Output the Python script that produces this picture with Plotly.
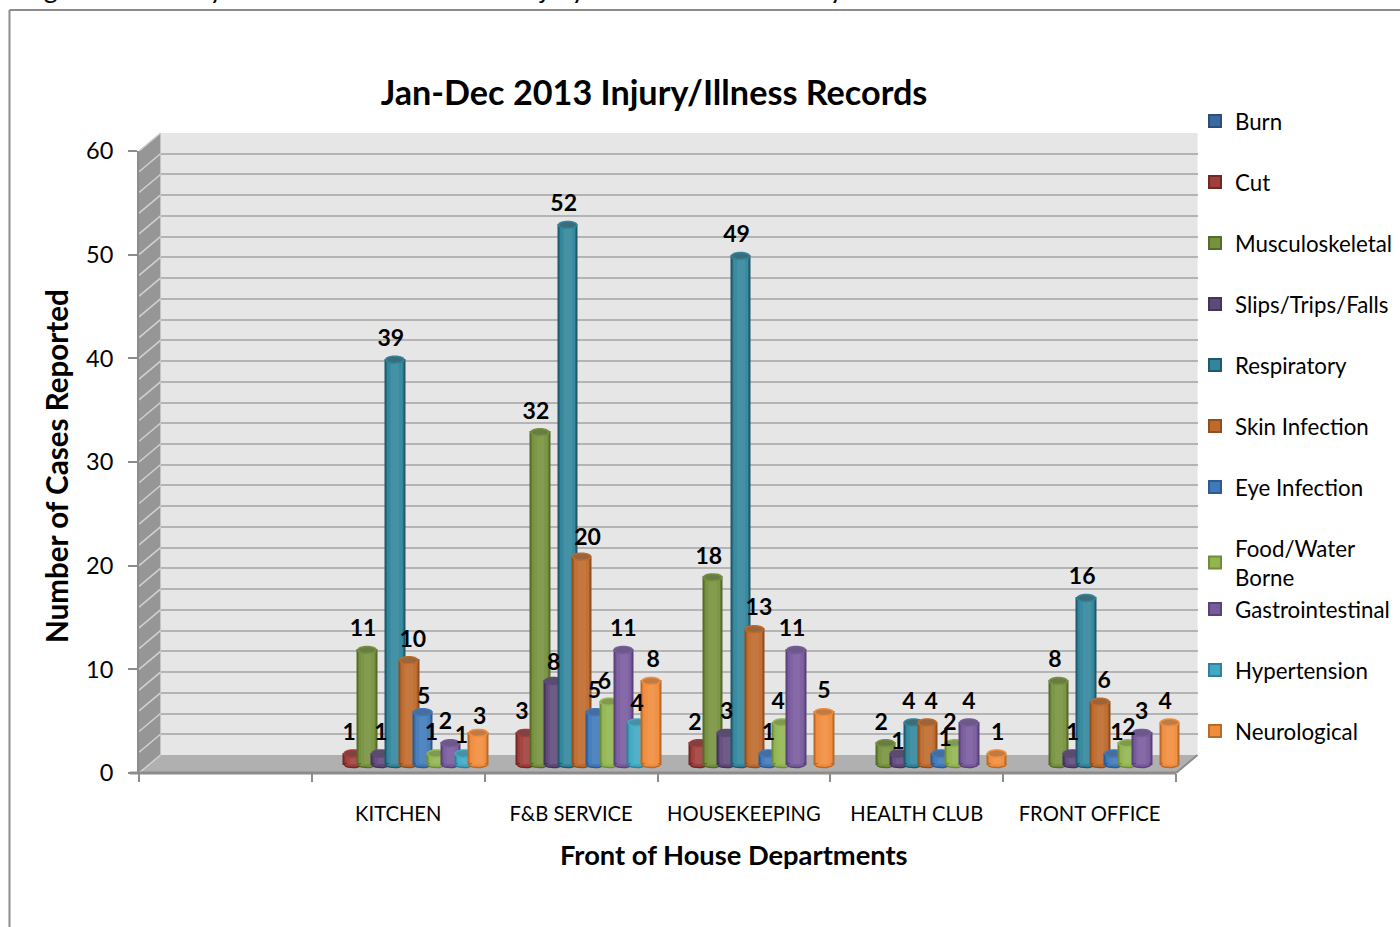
import math
import plotly.graph_objects as go

W, H = 1400, 927

departments = ["KITCHEN", "F&B SERVICE", "HOUSEKEEPING", "HEALTH CLUB", "FRONT OFFICE"]
burn = [None, None, None, None, None]
cut = [1, 3, 2, None, None]
musculoskeletal = [11, 32, 18, 2, 8]
slips = [1, 8, 3, 1, 1]
respiratory = [39, 52, 49, 4, 16]
skin = [10, 20, 13, 4, 6]
eye = [5, 5, 1, 1, 1]
food = [1, 6, 4, 2, 2]
gastro = [2, 11, 11, 4, 3]
hypertension = [1, 4, None, None, None]
neurological = [3, 8, 5, 1, 4]

series_names = ["Burn", "Cut", "Musculoskeletal", "Slips/Trips/Falls", "Respiratory", "Skin Infection",
                "Eye Infection", "Food/Water<br>Borne", "Gastrointestinal", "Hypertension", "Neurological"]
series_values = [burn, cut, musculoskeletal, slips, respiratory, skin, eye, food, gastro, hypertension, neurological]
base_colors = ["#3B6AA0", "#A03E3A", "#76923C", "#5F497A", "#31859C", "#BE6A2B",
               "#3F79B9", "#92B550", "#785A9E", "#41A8C4", "#F08C3C"]
dark_colors = ["#2C4F79", "#6F2826", "#566B2C", "#43345A", "#215968", "#8F4F20",
               "#2D5A90", "#6E8C3A", "#594376", "#2F8199", "#B86A2B"]
# hand placement of the data labels, in pixels, per department then per series
label_dx = [
    [0, -4, -4, 0, -4, 4, 1, -5, -5, -3, 1.5],
    [0, -4, -4, 0, -4, 6, -1, -5, 0, 0, 2],
    [0, -4, -4, 0, -4, 4.5, 0, -4, -4, 0, 0],
    [0, 0, -4.5, -1.5, -4.5, 4, 4, -5, 0, 0, 1],
    [0, 0, -3.5, 0.5, -4, 4, 3, 1, 0, 0, -4.5],
]
label_dy = [
    [0, 0, 0, 0, 0, 0, 6, 0, -1, 3, 5],
    [0, 0, 0, 3, 0, 2, 0, 1, 0, 2, 0],
    [0, 0, 0, 0, 0, 0, 0, 0, 0, 0, 0],
    [0, 0, 0, 9, 0, 0, 6, 0, 0, 0, 0],
    [0, 0, 0, 0, 0, 0, 0, 5, 0, 0, 0],
]

FONT = "Lato, Carlito, Calibri, sans-serif"
# geometry in pixels
X0, X1, Y0, Y60 = 139, 1176, 773, 151
DX, DY = 21.5, -18
MIDX, MIDY = 10.5, -9
LBLY = -17
PITCH = 0.0804
BARW = 0.107
PPU = (Y0 - Y60) / 60
SLOT = (X1 - X0) / 6
RY = 3.6 / PPU
LOW = -2


def fx(p):
    return p / W


def fy(p):
    return 1 - p / H


def xdom(o):
    return [fx(X0 + o), fx(X1 + o)]


def ydom(o):
    return [fy(Y0 + o), fy(Y60 + o)]


def lighten(c, a):
    r, g, b = [int(c[i:i + 2], 16) for i in (1, 3, 5)]
    return "#%02X%02X%02X" % (int(r + (255 - r) * a), int(g + (255 - g) * a), int(b + (255 - b) * a))


def poly(pts):
    return "M " + " L ".join(f"{fx(a)},{fy(b)}" for a, b in pts) + " Z"


fig = go.Figure()

# front axes (ticks, labels) and back wall (gridlines)
fig.add_trace(go.Scatter(x=[0], y=[0], mode="markers", marker=dict(opacity=0), showlegend=False, hoverinfo="skip"))
fig.add_trace(go.Scatter(x=[0], y=[0], mode="markers", marker=dict(opacity=0), showlegend=False, hoverinfo="skip",
                         xaxis="x2", yaxis="y2"))

layout_axes = {
    "xaxis": dict(domain=xdom(0), range=[0, 6], tickmode="array", tickvals=[i + 1.5 for i in range(5)],
                  ticktext=departments, ticks="", showgrid=False, zeroline=False, showline=False,
                  tickfont=dict(family=FONT, size=20.2, color="#000"), ticklabelstandoff=27,
                  minor=dict(tickmode="array", tickvals=list(range(7)), ticks="outside", ticklen=8, tickwidth=2,
                             tickcolor="#8C8C8C", showgrid=False),
                  anchor="y", fixedrange=True),
    "yaxis": dict(domain=ydom(0), range=[0, 60], tickmode="array", tickvals=list(range(0, 61, 10)),
                  ticks="outside", ticklen=9, tickwidth=2, tickcolor="#8C8C8C", showgrid=False, zeroline=False,
                  showline=True, linewidth=2, linecolor="#8C8C8C",
                  tickfont=dict(family=FONT, size=23.5, color="#000"), ticklabelstandoff=10,
                  anchor="x", fixedrange=True),
    "xaxis2": dict(domain=xdom(DX), range=[0, 6], visible=False, anchor="y2", fixedrange=True),
    "yaxis2": dict(domain=ydom(DY), range=[0, 60], tickmode="array", tickvals=list(range(0, 61, 2)),
                   showticklabels=False, ticks="", showgrid=True, gridcolor="#B4B4B4", gridwidth=2,
                   zeroline=False, showline=False, anchor="x2", fixedrange=True),
}

t_pts = [i / 14 * 2 * math.pi for i in range(15)]
t_half = [i / 10 * math.pi for i in range(11)]
rx = BARW / 2

for s, (name, vals, base, dark) in enumerate(zip(series_names, series_values, base_colors, dark_colors)):
    n = s + 3
    xa, ya = f"x{n}", f"y{n}"
    layout_axes[f"xaxis{n}"] = dict(domain=xdom(MIDX), range=[0, 6], visible=False, anchor=ya, fixedrange=True)
    layout_axes[f"yaxis{n}"] = dict(domain=[fy(Y0 + MIDY - LOW * PPU), fy(Y60 + MIDY)], range=[LOW, 60], visible=False,
                                    anchor=xa, fixedrange=True)
    xs = [i + 1.5 + (s - 5) * PITCH for i in range(5)]
    legend_id = "legend" if s < 8 else "legend2"
    fig.add_trace(go.Bar(x=xs, y=vals, name=name, width=BARW, xaxis=xa, yaxis=ya, legend=legend_id,
                         legendgroup=name, marker=dict(color=base, line=dict(color=dark, width=2)),
                         hoverinfo="x+y"))
    for w, a in ((0.72, 0.05), (0.42, 0.1)):
        fig.add_trace(go.Bar(x=xs, y=vals, width=BARW * w, xaxis=xa, yaxis=ya, showlegend=False, hoverinfo="skip",
                             marker=dict(color=lighten(base, a), line=dict(width=0))))
    ex, ey, bx, by = [], [], [], []
    for x, v in zip(xs, vals):
        if v is None:
            continue
        ex += [x + rx * math.cos(t) for t in t_pts] + [None]
        ey += [v + RY * math.sin(t) for t in t_pts] + [None]
        bx += [x + rx * math.cos(t) for t in t_half] + [None]
        by += [-RY * math.sin(t) for t in t_half] + [None]
    if ex:
        fig.add_trace(go.Scatter(x=bx, y=by, mode="lines", fill="toself", fillcolor=base,
                                 line=dict(color=dark, width=1.5), xaxis=xa, yaxis=ya,
                                 showlegend=False, hoverinfo="skip"))
        fig.add_trace(go.Scatter(x=ex, y=ey, mode="lines", fill="toself", fillcolor=lighten(dark, 0.12),
                                 line=dict(color=base, width=1.5), xaxis=xa, yaxis=ya,
                                 showlegend=False, hoverinfo="skip"))

# data labels on a top layer
lx, ly, lt = [], [], []
for s, vals in enumerate(series_values):
    for i, v in enumerate(vals):
        if v is not None:
            lx.append(i + 1.5 + (s - 5) * PITCH + label_dx[i][s] / SLOT)
            ly.append(v - label_dy[i][s] / PPU)
            lt.append(str(v))
n = len(series_names) + 3
layout_axes[f"xaxis{n}"] = dict(domain=xdom(MIDX), range=[0, 6], visible=False, anchor=f"y{n}", fixedrange=True)
layout_axes[f"yaxis{n}"] = dict(domain=ydom(LBLY), range=[0, 60], visible=False, anchor=f"x{n}", fixedrange=True)
fig.add_trace(go.Scatter(x=lx, y=ly, text=lt, mode="text", textposition="top center",
                         textfont=dict(family=FONT, size=23, color="#000", weight="bold"), cliponaxis=False,
                         xaxis=f"x{n}", yaxis=f"y{n}", showlegend=False, hoverinfo="skip"))

shapes = []
shapes.append(dict(type="path", xref="paper", yref="paper", layer="below", line=dict(width=0), fillcolor="#E6E6E6",
                   path=poly([(X0 + DX, Y60 + DY), (X1 + DX, Y60 + DY), (X1 + DX, Y0 + DY), (X0 + DX, Y0 + DY)])))
shapes.append(dict(type="path", xref="paper", yref="paper", layer="below", line=dict(width=0), fillcolor="#969696",
                   path=poly([(X0, Y60), (X0 + DX, Y60 + DY), (X0 + DX, Y0 + DY), (X0, Y0)])))
shapes.append(dict(type="path", xref="paper", yref="paper", layer="below", line=dict(width=0), fillcolor="#B0B0B0",
                   path=poly([(X0, Y0), (X1, Y0), (X1 + DX, Y0 + DY), (X0 + DX, Y0 + DY)])))
for v in range(0, 61, 2):
    yp = Y0 - v * PPU
    shapes.append(dict(type="line", xref="paper", yref="paper", layer="below", x0=fx(X0), y0=fy(yp),
                       x1=fx(X0 + DX), y1=fy(yp + DY), line=dict(color="#D2D2D2", width=1.5)))
# base line of the floor, right floor edge, outer frame
shapes.append(dict(type="line", xref="paper", yref="paper", layer="below", x0=fx(X0 - 9), y0=fy(Y0), x1=fx(X1), y1=fy(Y0),
                   line=dict(color="#8C8C8C", width=3)))
shapes.append(dict(type="line", xref="paper", yref="paper", layer="below", x0=fx(X1), y0=fy(Y0), x1=fx(X1 + DX), y1=fy(Y0 + DY),
                   line=dict(color="#8C8C8C", width=2)))
shapes.append(dict(type="line", xref="paper", yref="paper", layer="below", x0=fx(9.5), y0=fy(10), x1=fx(1400), y1=fy(10),
                   line=dict(color="#8C8C8C", width=2)))
shapes.append(dict(type="line", xref="paper", yref="paper", layer="below", x0=fx(9.5), y0=fy(10), x1=fx(9.5), y1=fy(927),
                   line=dict(color="#8C8C8C", width=2)))

annotations = [
    dict(text="<b>Number of Cases Reported</b>", x=fx(57), y=fy(466), xref="paper", yref="paper", showarrow=False,
         textangle=-90, xanchor="center", yanchor="middle", font=dict(family=FONT, size=29.6, color="#000")),
    dict(text="<b>Front of House Departments</b>", x=fx(734), y=fy(854), xref="paper", yref="paper", showarrow=False,
         xanchor="center", yanchor="middle", font=dict(family=FONT, size=27.3, color="#000")),
    dict(text="Figure 3: January - December 2013 Hotel Injury/Illness Records Analysis", x=fx(20), y=fy(-12), xref="paper", yref="paper",
         showarrow=False, xanchor="left", yanchor="middle", font=dict(family=FONT, size=27, color="#000")),
]

legend_common = dict(xanchor="left", yanchor="top", bgcolor="rgba(0,0,0,0)", traceorder="grouped", itemclick=False,
                     itemdoubleclick=False, font=dict(family=FONT, size=22.3, color="#000"), borderwidth=0)

fig.update_layout(
    width=W, height=H, margin=dict(l=0, r=0, t=0, b=0, autoexpand=False),
    paper_bgcolor="#FFFFFF", plot_bgcolor="rgba(0,0,0,0)", barmode="overlay", bargap=0,
    title=dict(text="<b>Jan-Dec 2013 Injury/Illness Records</b>", x=fx(654), y=fy(93), xanchor="center", yanchor="middle",
               xref="paper", yref="paper", font=dict(family=FONT, size=34.2, color="#000")),
    shapes=shapes, annotations=annotations,
    legend=dict(x=fx(1195), y=fy(100), tracegroupgap=29, **legend_common),
    legend2=dict(x=fx(1195), y=fy(588), tracegroupgap=29, **legend_common),
    **layout_axes,
)

fig.write_html("out.html", config={"displayModeBar": False},
               post_script="document.body.style.margin='0';document.body.style.overflow='hidden';")
